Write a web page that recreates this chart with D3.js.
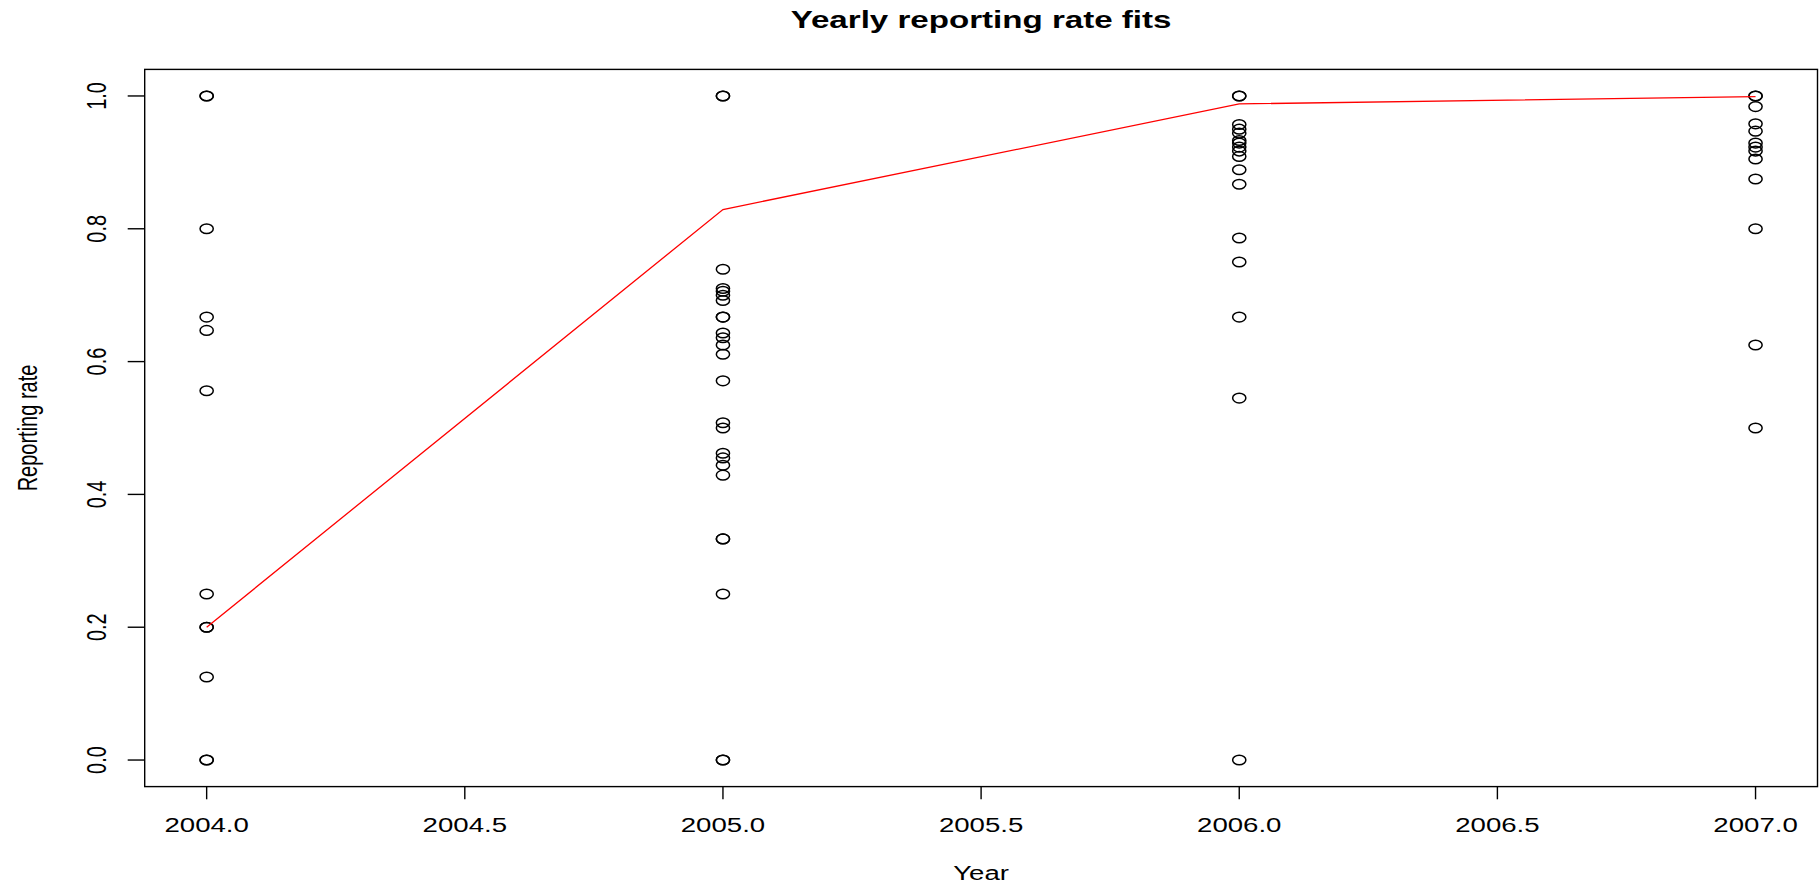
<!DOCTYPE html>
<html>
<head>
<meta charset="utf-8">
<script src="https://cdn.jsdelivr.net/npm/d3@7"></script>
<style>
  body { margin: 0; background: #fff; }
  text { font-family: "Liberation Sans", Arial, Helvetica, sans-serif; fill: #000; }
</style>
</head>
<body>
<div id="chart"></div>
<script>
// Data
const years = [2004, 2005, 2006, 2007];
const rates2004 = [1, 1, 0.8, 0.667, 0.647, 0.556, 0.25, 0.2, 0.2, 0.125, 0, 0];
const rates2005 = [1, 1, 0.739, 0.71, 0.706, 0.7, 0.692, 0.667, 0.667, 0.643, 0.636, 0.625, 0.611,
                   0.571, 0.508, 0.5, 0.462, 0.455, 0.444, 0.429, 0.333, 0.333, 0.25, 0, 0];
const rates2006 = [1, 1, 0.957, 0.95, 0.944, 0.933, 0.929, 0.923, 0.917, 0.909, 0.889, 0.867,
                   0.786, 0.75, 0.667, 0.545, 0];
const rates2007 = [1, 1, 0.984, 0.958, 0.947, 0.929, 0.923, 0.917, 0.905, 0.875, 0.8, 0.625, 0.5];
const fitted = [0.2, 0.829, 0.988, 0.999];
const xTicks = [2004.0, 2004.5, 2005.0, 2005.5, 2006.0, 2006.5, 2007.0];
const yTicks = [0, 0.2, 0.4, 0.6, 0.8, 1.0];

const W = 1820, H = 883;
const margin = { top: 69.4, right: 2.5, bottom: 96.4, left: 144.7 };
const width = W - margin.left - margin.right,
      height = H - margin.top - margin.bottom;
const sx = 1.38; // picture is stretched sideways

const svg = d3.select("#chart").append("svg")
    .attr("width", W)
    .attr("height", H);
svg.append("rect").attr("width", W).attr("height", H).attr("fill", "#fff");

const g = svg.append("g")
    .attr("transform", `translate(${margin.left},${margin.top})`);

// R style 4% padding on both axes
const x = d3.scaleLinear().domain([2003.88, 2007.12]).range([0, width]);
const y = d3.scaleLinear().domain([-0.04, 1.04]).range([height, 0]);

// box
g.append("rect")
    .attr("width", width).attr("height", height)
    .attr("fill", "none").attr("stroke", "#000").attr("stroke-width", 1.4);

// x axis ticks + labels
g.selectAll(".xtick").data(xTicks).enter().append("line")
    .attr("x1", d => x(d)).attr("x2", d => x(d))
    .attr("y1", height).attr("y2", height + 12.7)
    .attr("stroke", "#000").attr("stroke-width", 1.4);
g.selectAll(".xlab").data(xTicks).enter().append("text")
    .attr("transform", d => `translate(${x(d)},${height + 45}) scale(${sx},1)`)
    .attr("text-anchor", "middle")
    .style("font-size", "20px")
    .text(d => d.toFixed(1));

// y axis ticks + labels
g.selectAll(".ytick").data(yTicks).enter().append("line")
    .attr("x1", -17).attr("x2", 0)
    .attr("y1", d => y(d)).attr("y2", d => y(d))
    .attr("stroke", "#000").attr("stroke-width", 1.4);
g.selectAll(".ylab").data(yTicks).enter().append("text")
    .attr("transform", d => `translate(-38.5,${y(d)}) scale(${sx},1) rotate(-90)`)
    .attr("text-anchor", "middle")
    .style("font-size", "20px")
    .text(d => d.toFixed(1));

// titles
svg.append("text")
    .attr("transform", `translate(${margin.left + width / 2},28) scale(${sx},1)`)
    .attr("text-anchor", "middle")
    .style("font-size", "24px").style("font-weight", "bold")
    .text("Yearly reporting rate fits");
svg.append("text")
    .attr("transform", `translate(${margin.left + width / 2},880) scale(${sx},1)`)
    .attr("text-anchor", "middle")
    .style("font-size", "20px")
    .text("Year");
svg.append("text")
    .attr("transform", `translate(37,${margin.top + height / 2}) scale(${sx},1) rotate(-90)`)
    .attr("text-anchor", "middle")
    .style("font-size", "20px")
    .text("Reporting rate");

// points
const allRates = [rates2004, rates2005, rates2006, rates2007];
const points = [];
allRates.forEach((arr, i) => arr.forEach(v => points.push({ year: years[i], rate: v })));

g.selectAll(".dot").data(points).enter().append("ellipse")
    .attr("class", "dot")
    .attr("cx", d => x(d.year))
    .attr("cy", d => y(d.rate))
    .attr("rx", 6.6).attr("ry", 4.8)
    .attr("fill", "none")
    .attr("stroke", "#000")
    .attr("stroke-width", 1.5);

// fitted line
g.append("path")
    .datum(years.map((yr, i) => ({ year: yr, rate: fitted[i] })))
    .attr("fill", "none")
    .attr("stroke", "#ff0000")
    .attr("stroke-width", 1.3)
    .attr("d", d3.line().x(d => x(d.year)).y(d => y(d.rate)));
</script>
</body>
</html>
